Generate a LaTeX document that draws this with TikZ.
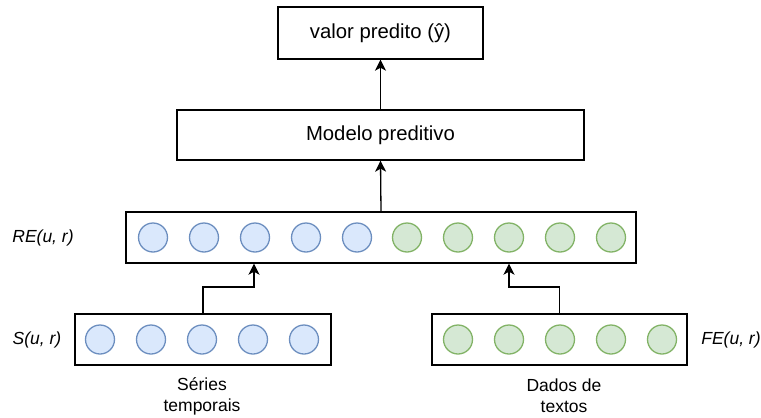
\documentclass[tikz,border=0pt]{standalone}
\usepackage{fontspec}
\setmainfont{Liberation Sans}
\usetikzlibrary{arrows.meta}

\definecolor{dotblue}{HTML}{DAE8FC}
\definecolor{lineblue}{HTML}{6C8EBF}
\definecolor{dotgreen}{HTML}{D5E8D4}
\definecolor{linegreen}{HTML}{82B366}

\tikzset{
  box/.style={draw, line width=1.4pt, minimum height=51pt, inner sep=0pt},
  bluedot/.style={circle, draw=lineblue, fill=dotblue, line width=1.3pt, minimum size=29pt, inner sep=0pt},
  greendot/.style={circle, draw=linegreen, fill=dotgreen, line width=1.3pt, minimum size=29pt, inner sep=0pt},
  arr/.style={-{Stealth[length=11pt, width=11pt, inset=3pt]}, line width=1.3pt}
}

\begin{document}
\begin{tikzpicture}[x=1pt, y=-1pt, font=\fontsize{17.5}{21}\selectfont]
      \useasboundingbox (0,0) rectangle (761,418);

      % Output box and model box
      \node[box, minimum width=205pt, minimum height=52pt, font=\fontsize{20.3}{24}\selectfont] (pred) at (380.5,33) {valor predito (ŷ)};
      \node[box, minimum width=407pt, minimum height=50pt, font=\fontsize{20.3}{24}\selectfont] (model) at (380.5,135) {Modelo preditivo};

      % Joint representation RE(u, r)
      \node[box, minimum width=510pt] (rebox) at (381,237.5) {};
      \foreach \i in {0,...,4} {
        \node[bluedot] (reb\i) at (153+51*\i,237.5) {};
        \node[greendot] (reg\i) at (407+51*\i,237.5) {};
      }
      \node (relabel) at (43,237.5) {\itshape RE(u, r)};

      % Time series input S(u, r)
      \node[box, minimum width=256pt] (sbox) at (203,339.5) {};
      \foreach \i in {0,...,4}
        \node[bluedot] (s\i) at (100+51*\i,339.5) {};
      \node (slabel) at (37,339.5) {\itshape S(u, r)};
      \node[align=center] (stext) at (202,396) {Séries\\temporais};

      % Text input FE(u, r)
      \node[box, minimum width=255pt] (fbox) at (559.5,339.5) {};
      \foreach \i in {0,...,4}
        \node[greendot] (f\i) at (458+51*\i,339.5) {};
      \node (flabel) at (731,339.5) {\itshape FE(u, r)};
      \node[align=center] (ftext) at (564,396) {Dados de\\textos};

      % Connectors
      \coordinate (sjoin) at (254,287);
      \coordinate (fjoin) at (509,287);
      \draw[arr] (sbox.north) |- (sjoin) -- (sjoin |- rebox.south);
      \draw[arr] (fbox.north) |- (fjoin) -- (fjoin |- rebox.south);
      \draw[arr] (rebox.north) -- (model.south);
      \draw[arr] (model.north) -- (pred.south);
    \end{tikzpicture}
\end{document}
